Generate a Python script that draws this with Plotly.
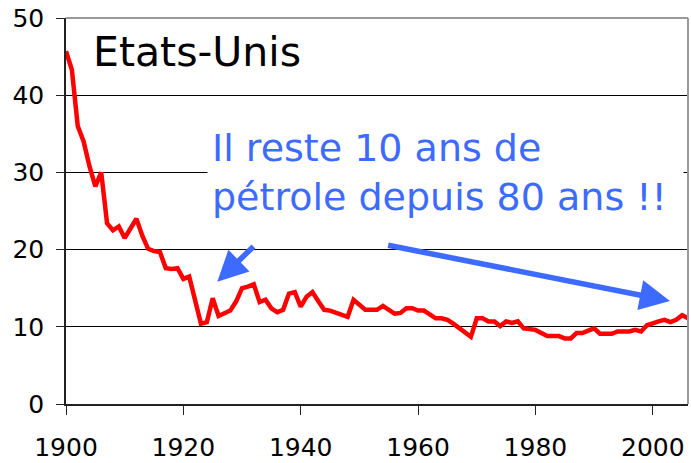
import plotly.graph_objects as go

years = list(range(1900, 2007))
reserves_years = [
    45.7, 43.3, 36.0, 34.0, 30.8, 28.2, 30.0, 23.4, 22.5, 23.0,
    21.5, 22.8, 24.0, 21.8, 20.1, 19.8, 19.7, 17.6, 17.5, 17.6,
    16.2, 16.5, 13.5, 10.4, 10.6, 13.7, 11.4, 11.7, 12.1, 13.3,
    15.0, 15.2, 15.5, 13.2, 13.5, 12.4, 11.9, 12.2, 14.3, 14.5,
    12.6, 13.9, 14.5, 13.3, 12.2, 12.1, 11.8, 11.6, 11.3, 13.5,
    12.8, 12.2, 12.2, 12.2, 12.7, 12.2, 11.7, 11.8, 12.4, 12.4,
    12.1, 12.1, 11.6, 11.1, 11.1, 10.9, 10.4, 9.8, 9.3, 8.7,
    11.1, 11.1, 10.7, 10.7, 10.1, 10.7, 10.5, 10.7, 9.8, 9.7,
    9.6, 9.2, 8.8, 8.8, 8.8, 8.5, 8.5, 9.2, 9.2, 9.5,
    9.8, 9.1, 9.1, 9.1, 9.4, 9.4, 9.4, 9.6, 9.4, 10.2,
    10.5, 10.7, 10.9, 10.6, 10.9, 11.5, 11.1,
]
x_ticks = [1900, 1920, 1940, 1960, 1980, 2000]
y_ticks = [0, 10, 20, 30, 40, 50]

FONT = "DejaVu Sans"
BLUE = "#3D6BFF"

fig = go.Figure()
fig.add_trace(go.Scatter(x=years, y=reserves_years, mode="lines",
                         line=dict(color="#FF0000", width=4.5), showlegend=False,
                         hoverinfo="skip"))

fig.update_layout(
    width=691, height=463,
    margin=dict(l=66, r=3, t=18, b=59, autoexpand=False),
    paper_bgcolor="white", plot_bgcolor="white",
    font=dict(family=FONT, color="black", size=25),
    xaxis=dict(range=[1900, 2006], tickvals=x_ticks, ticktext=[str(v) for v in x_ticks],
               showgrid=False, zeroline=False, showline=True, linecolor="#222222",
               linewidth=1.5, ticks="outside", ticklen=9, tickcolor="#222222",
               tickfont=dict(family=FONT, size=25), ticklabelstandoff=11,
               automargin=False),
    yaxis=dict(range=[0, 50], tickvals=y_ticks, ticktext=[str(v) for v in y_ticks],
               showgrid=True, gridcolor="#000000", gridwidth=1, zeroline=False,
               showline=True, linecolor="#222222", linewidth=1.5, ticks="outside",
               ticklen=8, tickcolor="#222222", tickfont=dict(family=FONT, size=25),
               ticklabelstandoff=7, automargin=False),
    shapes=[
        dict(type="line", xref="paper", yref="paper", x0=0, x1=1, y0=1, y1=1,
             line=dict(color="#999999", width=2)),
        dict(type="line", xref="paper", yref="paper", x0=1, x1=1, y0=0, y1=1,
             line=dict(color="#999999", width=2)),
    ],
    annotations=[
        dict(text="Etats-Unis", xref="paper", yref="paper", x=0.040, y=0.913,
             xanchor="left", yanchor="middle", showarrow=False,
             font=dict(family=FONT, size=41, color="black")),
        dict(text="Il reste 10 ans de<br>pétrole depuis 80 ans !!", xref="paper", yref="paper",
             x=0.2267, y=0.6, xanchor="left", yanchor="middle", align="left",
             width=467, showarrow=False, bgcolor="white", borderpad=4,
             font=dict(family=FONT, size=38, color=BLUE)),
        dict(text="", xref="paper", yref="paper", x=0.2432, y=0.3168, ax=37.7, ay=-36.7,
             showarrow=True, arrowhead=2, arrowsize=1.1, arrowwidth=5.5, arrowcolor=BLUE),
        dict(text="", xref="paper", yref="paper", x=0.971, y=0.2668, ax=-283.3, ay=-56,
             showarrow=True, arrowhead=2, arrowsize=1.1, arrowwidth=5.5, arrowcolor=BLUE),
    ],
)

fig.write_html("out.html", config={"displayModeBar": False},
               post_script="document.body.style.margin='0';document.body.style.padding='0';")
